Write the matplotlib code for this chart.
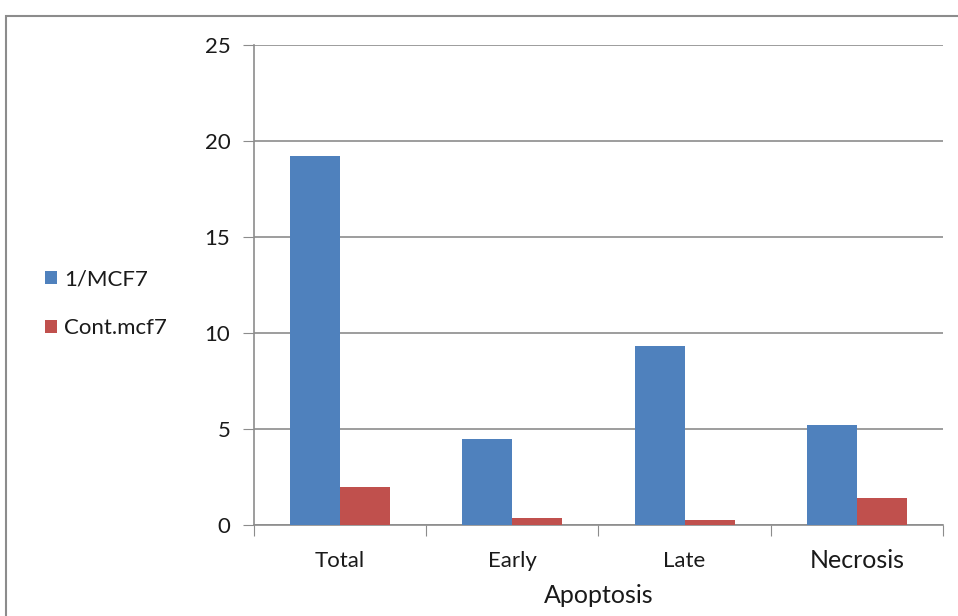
import matplotlib.pyplot as plt
import matplotlib.patches as patches
import numpy as np

categories = ['Total', 'Early', 'Late', 'Necrosis']
mcf7_treated = [19.2, 4.5, 9.3, 5.2]
mcf7_control = [2.0, 0.35, 0.25, 1.4]
series_names = ['1/MCF7', 'Cont.mcf7']

plt.rcParams['font.family'] = ['Lato', 'DejaVu Sans']

fig = plt.figure(figsize=(9.58, 6.16), dpi=100)
ax = fig.add_axes([0.2651, 0.1477, 0.7192, 0.7792])

# outer chart frame
fig.patches.append(patches.Rectangle((6 / 958, -0.1), 1.2, 1 - 16 / 616 + 0.1,
                                     transform=fig.transFigure, fill=False,
                                     edgecolor='#8c8c8c', linewidth=1.5))

x = np.arange(len(categories))
w = 0.29
ax.bar(x - w / 2, mcf7_treated, w, color='#4F81BD', label=series_names[0], zorder=3)
ax.bar(x + w / 2, mcf7_control, w, color='#C0504D', label=series_names[1], zorder=3)

ax.set_xlim(-0.5, len(categories) - 0.5)
ax.set_ylim(0, 25)
ax.set_yticks([0, 5, 10, 15, 20, 25])
ax.yaxis.grid(True, color='#8c8c8c', linewidth=1.2, zorder=0)
ax.tick_params(axis='y', length=8, color='#8c8c8c', labelsize=16, pad=9,
               labelcolor='#1a1a1a')

# category separators as ticks
ax.set_xticks(np.arange(len(categories) + 1) - 0.5)
ax.set_xticklabels([])
ax.tick_params(axis='x', length=8, color='#8c8c8c')
for i, c in enumerate(categories):
    ax.text(i, -1.85, c, ha='center', va='center', color='#1a1a1a',
            fontsize=18 if c == 'Necrosis' else 16)
ax.text(1.5, -3.65, 'Apoptosis', ha='center', va='center', fontsize=18,
        color='#1a1a1a')

for s in ['top', 'right']:
    ax.spines[s].set_visible(False)
for s in ['left', 'bottom']:
    ax.spines[s].set_color('#8c8c8c')
    ax.spines[s].set_linewidth(1.2)

fig.legend(loc='center left', bbox_to_anchor=(0.026, 0.507), frameon=False,
           fontsize=16, handlelength=0.55, handleheight=0.55, handletextpad=0.3,
           labelspacing=1.3, labelcolor='#1a1a1a')

fig.savefig('out.png', dpi=100)
